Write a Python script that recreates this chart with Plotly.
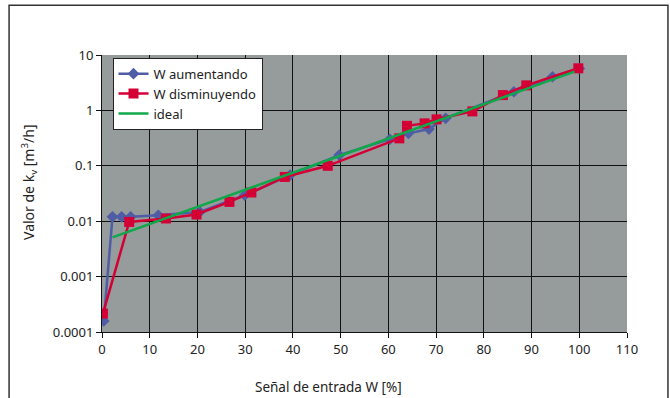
import plotly.graph_objects as go

# Data
w_up_x = [0.36, 2.2, 4.1, 6.0, 11.8, 20.5, 29.9, 39.4, 49.7, 60.3, 64.2, 68.5, 72.0, 86.3, 94.4, 100.0]
w_up_y = [0.000158, 0.0120, 0.0120, 0.0120, 0.0128, 0.0147, 0.0295, 0.068, 0.156, 0.30, 0.385, 0.46, 0.72, 2.17, 4.05, 5.7]

w_down_x = [0.2, 5.7, 13.4, 19.8, 26.7, 31.3, 38.3, 47.3, 62.3, 63.9, 67.6, 70.1, 77.6, 84.0, 88.9, 99.8]
w_down_y = [0.000215, 0.0097, 0.0112, 0.0132, 0.0223, 0.033, 0.063, 0.10, 0.313, 0.527, 0.583, 0.69, 0.96, 1.89, 2.83, 5.75]

ideal_x = [2.2, 99.0]
ideal_y = [0.0051, 5.0]

y_tickvals = [0.0001, 0.001, 0.01, 0.1, 1, 10]
y_ticktext = ["0.0001", "0.001", "0.01", "0.1", "1", "10"]

FONT = "Noto Sans"
BLUE = "#4f5ca6"
RED = "#d40035"
GREEN = "#10a84a"

fig = go.Figure()
fig.add_trace(go.Scatter(
    x=w_up_x, y=w_up_y, name="W aumentando", mode="lines+markers",
    line=dict(color=BLUE, width=2.5),
    marker=dict(symbol="diamond", size=9, color=BLUE),
))
fig.add_trace(go.Scatter(
    x=w_down_x, y=w_down_y, name="W disminuyendo", mode="lines+markers",
    line=dict(color=RED, width=2.5),
    marker=dict(symbol="square", size=10, color=RED),
))
fig.add_trace(go.Scatter(
    x=ideal_x, y=ideal_y, name="ideal", mode="lines",
    line=dict(color=GREEN, width=2.5),
))

fig.update_layout(
    width=670, height=398,
    margin=dict(l=102, r=43, t=55, b=66),
    paper_bgcolor="white",
    plot_bgcolor="#969b9b",
    font=dict(family=FONT, size=12, color="#222"),
    showlegend=True,
    legend=dict(
        x=0.02, y=0.99, xanchor="left", yanchor="top",
        bgcolor="white", bordercolor="#222", borderwidth=1,
        font=dict(family=FONT, size=13, color="#222"),
        tracegroupgap=2, itemwidth=30,
    ),
    shapes=[dict(type="rect", xref="paper", yref="paper",
                 x0=-0.177, x1=1.078, y0=-0.3, y1=1.18,
                 line=dict(color="#333", width=1.5))],
    annotations=[
        dict(text="Señal de entrada W [%]", xref="paper", yref="paper",
             x=0.432, y=-0.16, xanchor="center", yanchor="top", showarrow=False,
             font=dict(family=FONT, size=13.5, color="#222")),
        dict(text="Valor de k<sub>v</sub> [m<sup>3</sup>/h]", xref="paper", yref="paper",
             x=-0.138, y=0.54, xanchor="center", yanchor="middle", showarrow=False,
             textangle=-90, font=dict(family=FONT, size=14, color="#222")),
    ],
)
fig.update_xaxes(
    range=[0, 110], dtick=10, tick0=0,
    showgrid=True, gridcolor="#111", gridwidth=1,
    showline=True, linecolor="#111", linewidth=1,
    ticks="outside", ticklen=5, tickcolor="#111",
    zeroline=False, mirror=False,
    tickfont=dict(family=FONT, size=13, color="#222"),
)
fig.update_yaxes(
    type="log", range=[-4, 1],
    tickvals=y_tickvals, ticktext=y_ticktext,
    showgrid=True, gridcolor="#111", gridwidth=1,
    showline=True, linecolor="#111", linewidth=1,
    ticks="outside", ticklen=5, tickcolor="#111",
    zeroline=False,
    tickfont=dict(family=FONT, size=13, color="#222"),
)

fig.write_html("out.html", config={"displayModeBar": False},
               post_script="document.body.style.margin='0';document.body.style.overflow='hidden';")
